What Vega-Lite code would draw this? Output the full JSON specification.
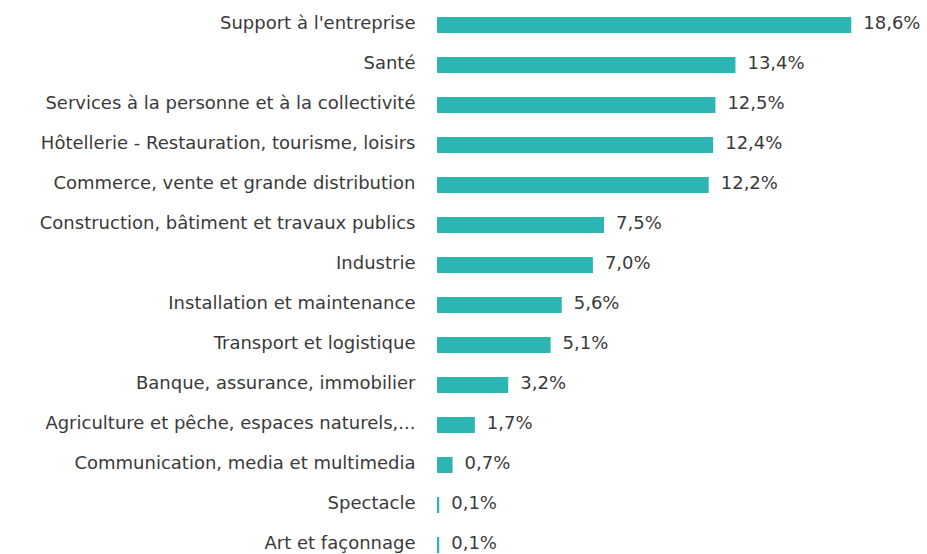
{
  "$schema": "https://vega.github.io/schema/vega-lite/v6.json",
  "autosize": "none",
  "padding": {"left": 437, "top": 17, "right": 0, "bottom": 0},
  "width": 490,
  "height": 536,
  "background": "white",
  "data": {"values": [
    {"secteur": "Support à l'entreprise", "part": 18.6, "label": "18,6%"},
    {"secteur": "Santé", "part": 13.4, "label": "13,4%"},
    {"secteur": "Services à la personne et à la collectivité", "part": 12.5, "label": "12,5%"},
    {"secteur": "Hôtellerie - Restauration, tourisme, loisirs", "part": 12.4, "label": "12,4%"},
    {"secteur": "Commerce, vente et grande distribution", "part": 12.2, "label": "12,2%"},
    {"secteur": "Construction, bâtiment et travaux publics", "part": 7.5, "label": "7,5%"},
    {"secteur": "Industrie", "part": 7.0, "label": "7,0%"},
    {"secteur": "Installation et maintenance", "part": 5.6, "label": "5,6%"},
    {"secteur": "Transport et logistique", "part": 5.1, "label": "5,1%"},
    {"secteur": "Banque, assurance, immobilier", "part": 3.2, "label": "3,2%"},
    {"secteur": "Agriculture et pêche, espaces naturels,...", "part": 1.7, "label": "1,7%"},
    {"secteur": "Communication, media et multimedia", "part": 0.7, "label": "0,7%"},
    {"secteur": "Spectacle", "part": 0.1, "label": "0,1%"},
    {"secteur": "Art et façonnage", "part": 0.1, "label": "0,1%"}
  ]},
  "encoding": {
    "y": {"field": "secteur", "type": "nominal", "sort": null,
      "scale": {"paddingInner": 0.6, "paddingOuter": 0},
      "axis": {"title": null, "domain": false, "ticks": false, "labelPadding": 22, "labelOffset": -1,
        "labelFont": "DejaVu Sans", "labelFontSize": 18, "labelColor": "#3a3a3a", "labelLimit": 500}},
    "x": {"field": "part", "type": "quantitative",
      "scale": {"domain": [0, 22.0], "nice": false},
      "axis": null}
  },
  "layer": [
    {"mark": {"type": "bar", "color": "#2db5b4"}},
    {"mark": {"type": "text", "align": "left", "dx": 12, "dy": -1, "font": "DejaVu Sans", "fontSize": 18, "color": "#3a3a3a"},
     "encoding": {"text": {"field": "label"}}}
  ],
  "config": {"view": {"stroke": null}}
}
